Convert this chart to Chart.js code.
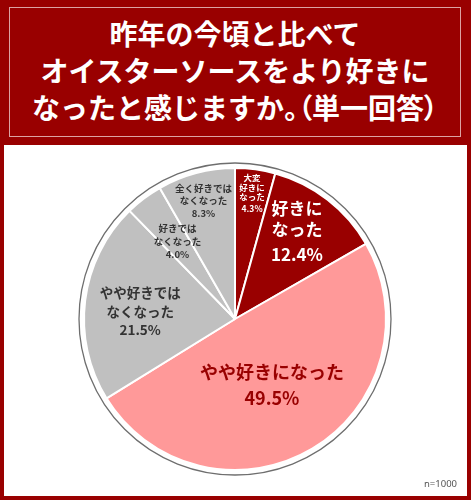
<!DOCTYPE html>
<html lang="ja">
<head>
<meta charset="utf-8">
<title>オイスターソースの好み</title>
<script src="https://cdn.jsdelivr.net/npm/chart.js@4.4.1/dist/chart.umd.min.js"></script>
<style>
  html, body { margin: 0; padding: 0; background: #fff; }
  body { width: 471px; height: 500px; position: relative; overflow: hidden;
         font-family: "Noto Sans CJK JP", "Noto Sans", sans-serif; }
  #frame { position: absolute; left: 0; top: 0; width: 471px; height: 500px;
           box-sizing: border-box; border: 4px solid #990000; border-top: none; }
  #header { position: absolute; left: 0; top: 0; width: 471px; height: 145px;
            background: #990000; z-index: 2; }
  #header .inner { position: absolute; left: 9px; top: 7px; width: 450px; height: 128px;
                   border: 1px solid #dca3a3; box-sizing: content-box;
                   color: #fff; font-weight: bold; font-size: 28px; line-height: 37px;
                   text-align: center; padding-top: 0; }
  #header .inner div { white-space: nowrap; }
  #header .inner .l1 { margin-top: 7px; }
  #header .inner .p { font-feature-settings: "palt"; }
  #wrap { position: absolute; left: 0; top: 0; width: 471px; height: 500px; z-index: 1; }
  #note { position: absolute; right: 14px; top: 477px; font-size: 9.5px; color: #555;
          font-family: "Noto Sans", sans-serif; z-index: 3; }
</style>
</head>
<body>
<div id="frame"></div>
<div id="header">
  <div class="inner">
    <div class="l1">昨年の今頃と比べて</div>
    <div>オイスターソースをより好きに</div>
    <div>なったと感じますか<span class="p">。（</span>単一回答<span class="p">）</span></div>
  </div>
</div>
<div id="wrap"><canvas id="pieChart"></canvas></div>
<div id="note">n=1000</div>

<script>
// categories (clockwise from 12 o'clock)
const categories = ['大変好きになった', '好きになった', 'やや好きになった',
                    'やや好きではなくなった', '好きではなくなった', '全く好きではなくなった'];
// how each category name is broken into lines inside its slice
const labelLines = [
  ['大変', '好きに', 'なった'],
  ['好きに', 'なった'],
  ['やや好きになった'],
  ['やや好きでは', 'なくなった'],
  ['好きでは', 'なくなった'],
  ['全く好きでは', 'なくなった']
];
// percentages
const values = [4.3, 12.4, 49.5, 21.5, 4.0, 8.3];

const sliceColors = ['#990000', '#990000', '#ff9999', '#c0c0c0', '#c0c0c0', '#c0c0c0'];

// label look: font size, line height, gap to the % line, colour,
// distance from centre (fraction of radius), angle tweak in degrees
const labelStyles = [
  { size: 8.5,  lh: 9.5, gap: 12, color: '#ffffff', dist: 0.84, turn: 0 },
  { size: 17,   lh: 21,  gap: 25, color: '#ffffff', dist: 0.71, turn: -2.5 },
  { size: 18,   lh: 26,  gap: 26, color: '#990000', dist: 0.50, turn: 1.5 },
  { size: 13.5, lh: 19,  gap: 18, color: '#333333', dist: 0.63, turn: -2.5 },
  { size: 9.5,  lh: 13,  gap: 13, color: '#333333', dist: 0.64, turn: 0.5 },
  { size: 9.5,  lh: 12.5, gap: 13, color: '#333333', dist: 0.81, turn: 0 }
];

const FONT = '"Noto Sans CJK JP", "Noto Sans", sans-serif';

// thin grey ring just outside the pie
const outerRing = {
  id: 'outerRing',
  beforeDatasetsDraw(chart) {
    const arc = chart.getDatasetMeta(0).data[0];
    if (!arc) return;
    const ctx = chart.ctx;
    ctx.save();
    ctx.beginPath();
    ctx.arc(arc.x, arc.y, arc.outerRadius + 5, 0, Math.PI * 2);
    ctx.strokeStyle = '#6e6e6e';
    ctx.lineWidth = 1.3;
    ctx.stroke();
    ctx.restore();
  }
};

// text inside each slice
const sliceLabels = {
  id: 'sliceLabels',
  afterDatasetsDraw(chart) {
    const ctx = chart.ctx;
    const meta = chart.getDatasetMeta(0);
    meta.data.forEach((arc, i) => {
      const st = labelStyles[i];
      const mid = (arc.startAngle + arc.endAngle) / 2 + st.turn * Math.PI / 180;
      const r = arc.outerRadius * st.dist;
      const cx = arc.x + Math.cos(mid) * r;
      const cy = arc.y + Math.sin(mid) * r;
      const lines = labelLines[i];
      const span = (lines.length - 1) * st.lh + st.gap;
      let y = cy - span / 2;
      ctx.save();
      ctx.fillStyle = st.color;
      ctx.textAlign = 'center';
      ctx.textBaseline = 'middle';
      ctx.font = 'bold ' + st.size + 'px ' + FONT;
      lines.forEach((t, k) => {
        ctx.fillText(t, cx, y + k * st.lh);
      });
      ctx.fillText(values[i].toFixed(1) + '%', cx, y + (lines.length - 1) * st.lh + st.gap);
      ctx.restore();
    });
  }
};

new Chart(document.getElementById('pieChart'), {
  type: 'pie',
  data: {
    labels: categories,
    datasets: [{
      data: values,
      backgroundColor: sliceColors,
      borderColor: '#ffffff',
      borderWidth: 2
    }]
  },
  options: {
    responsive: true,
    maintainAspectRatio: false,
    animation: false,
    radius: 151,
    layout: { padding: { left: 60, right: 61, top: 160, bottom: 22 } },
    plugins: { legend: { display: false }, tooltip: { enabled: false } }
  },
  plugins: [outerRing, sliceLabels]
});
</script>
</body>
</html>
